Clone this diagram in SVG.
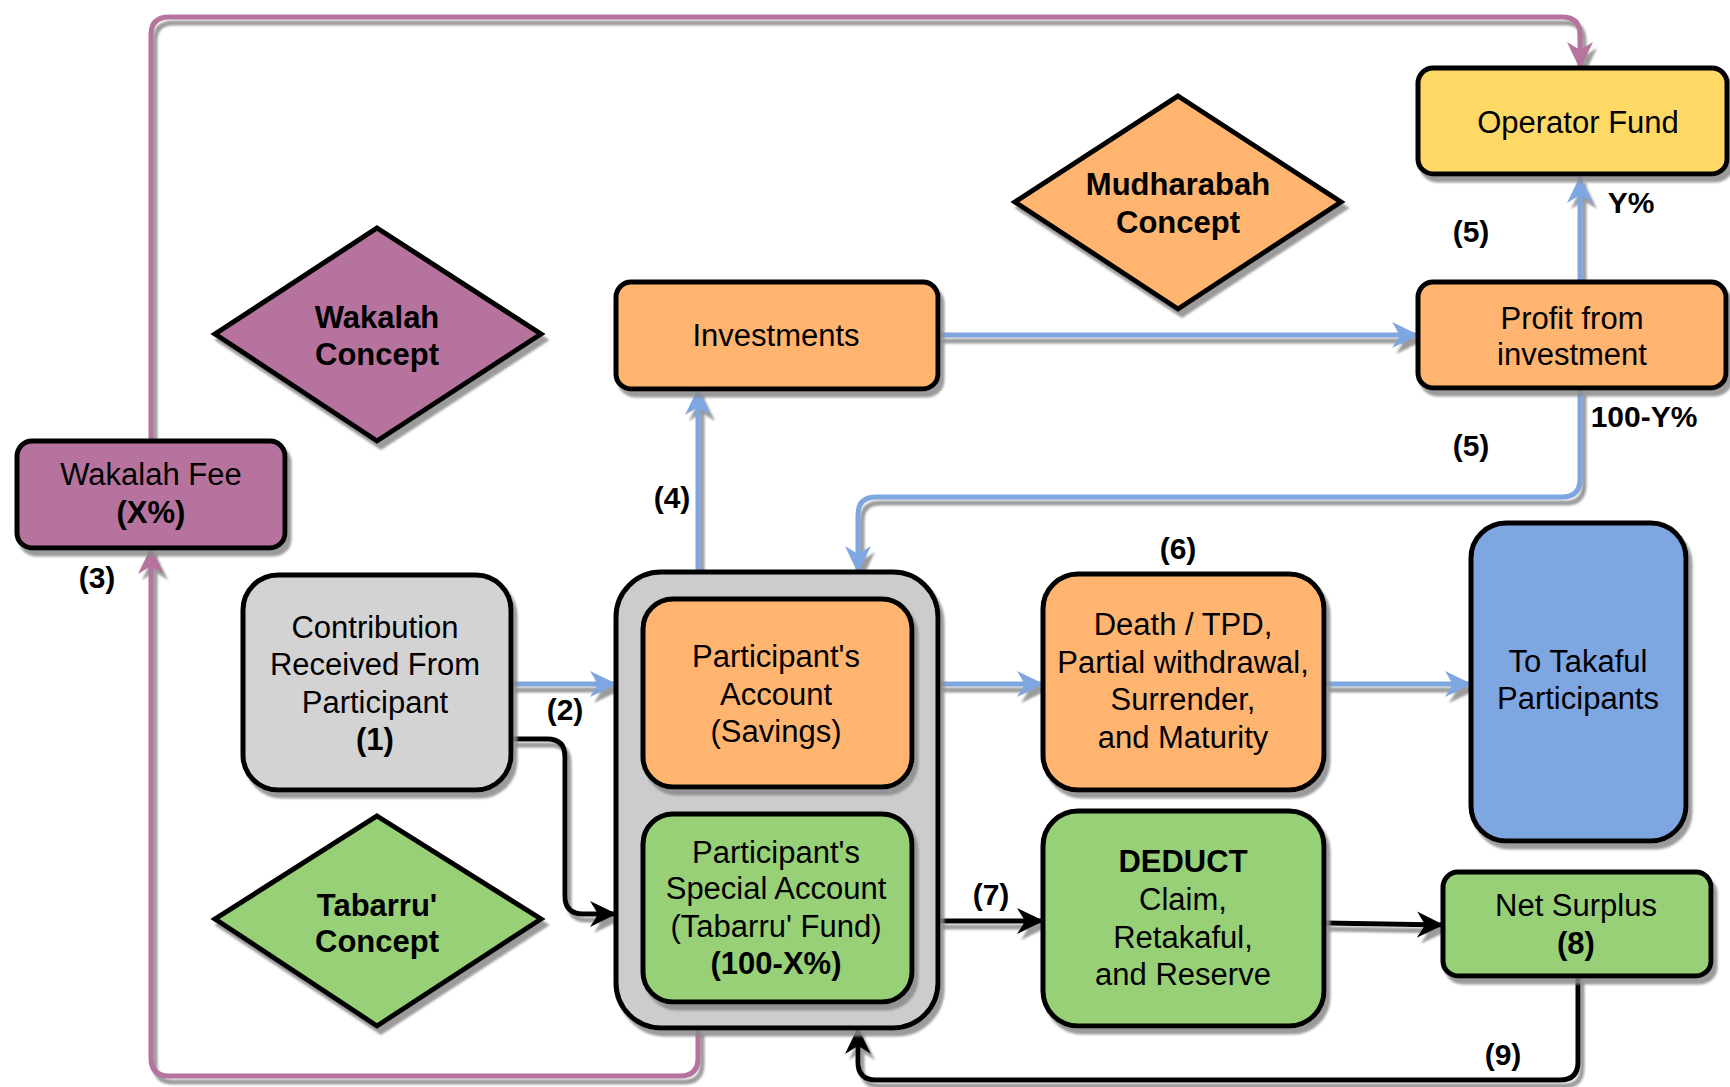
<svg xmlns="http://www.w3.org/2000/svg" width="1730" height="1087" viewBox="0 0 1730 1087">
<defs>
<filter id="sh" x="-10%" y="-10%" width="130%" height="130%">
<feGaussianBlur in="SourceAlpha" stdDeviation="1.2" result="b"/>
<feOffset in="b" dx="4" dy="6" result="o"/>
<feFlood flood-color="#8a8a8a" flood-opacity="0.85"/>
<feComposite in2="o" operator="in" result="s"/>
<feMerge><feMergeNode in="s"/><feMergeNode in="SourceGraphic"/></feMerge>
</filter>
<marker id="ab" markerUnits="userSpaceOnUse" markerWidth="28" markerHeight="28" viewBox="0 0 28 28" refX="26" refY="14" orient="auto"><path d="M0,1 L27,14 L0,27 L8,14 Z" fill="#7EA6E0"/></marker>
<marker id="ap" markerUnits="userSpaceOnUse" markerWidth="28" markerHeight="28" viewBox="0 0 28 28" refX="26" refY="14" orient="auto"><path d="M0,1 L27,14 L0,27 L8,14 Z" fill="#B5739D"/></marker>
<marker id="ak" markerUnits="userSpaceOnUse" markerWidth="28" markerHeight="28" viewBox="0 0 28 28" refX="26" refY="14" orient="auto"><path d="M0,1 L27,14 L0,27 L8,14 Z" fill="#000"/></marker>
</defs>
<style>
text{font-family:"Liberation Sans",Arial,Helvetica,sans-serif;font-size:31px;fill:#000;text-anchor:middle}
.b{font-weight:bold}
.lb{font-weight:bold;font-size:30px}
.n{stroke:#000;stroke-width:5}
.c{fill:none;stroke-width:5;stroke-linejoin:round}
.blue{stroke:#7EA6E0}
.pur{stroke:#B5739D}
.blk{stroke:#000}
</style>

<g id="connectors" filter="url(#sh)">
<path class="c pur" d="M151,441 V35 Q151,17 169,17 H1562 Q1580,17 1580,35 V68" marker-end="url(#ap)"/>
<path class="c pur" d="M698,1028 V1058 Q698,1076 680,1076 H169 Q151,1076 151,1058 V548" marker-end="url(#ap)"/>
<path class="c blue" d="M698,572 V389" marker-end="url(#ab)"/>
<path class="c blue" d="M938,335 H1418" marker-end="url(#ab)"/>
<path class="c blue" d="M1580,282 V177" marker-end="url(#ab)"/>
<path class="c blue" d="M1580,389 V479 Q1580,497 1562,497 H876 Q858,497 858,515 V572" marker-end="url(#ab)"/>
<path class="c blue" d="M511,684 H616" marker-end="url(#ab)"/>
<path class="c blk" d="M511,739 H547 Q565,739 565,757 V896 Q565,914 583,914 H616" marker-end="url(#ak)"/>
<path class="c blue" d="M938,684 H1043" marker-end="url(#ab)"/>
<path class="c blue" d="M1324,684 H1471" marker-end="url(#ab)"/>
<path class="c blk" d="M938,921 H1043" marker-end="url(#ak)"/>
<path class="c blk" d="M1324,923 L1443,925" marker-end="url(#ak)"/>
<path class="c blk" d="M1578,976 V1062 Q1578,1080 1560,1080 H876 Q858,1080 858,1062 V1028" marker-end="url(#ak)"/>
</g>

<g id="labels">
<text class="lb" x="1631" y="213">Y%</text>
<text class="lb" x="1471" y="242">(5)</text>
<text class="lb" x="1644" y="427">100-Y%</text>
<text class="lb" x="1471" y="456">(5)</text>
<text class="lb" x="97" y="588">(3)</text>
<text class="lb" x="672" y="508">(4)</text>
<text class="lb" x="565" y="720">(2)</text>
<text class="lb" x="1178" y="559">(6)</text>
<text class="lb" x="991" y="905">(7)</text>
<text class="lb" x="1503" y="1065">(9)</text>
</g>

<g id="operator-fund">
<rect class="n" x="1418" y="68" width="309" height="106" rx="15" fill="#FFD966" filter="url(#sh)"/>
<text x="1578" y="133">Operator Fund</text>
</g>

<g id="mudharabah-concept">
<polygon class="n" points="1178,96 1341,202 1178,309 1015,202" fill="#FFB570" filter="url(#sh)"/>
<text class="b" x="1178" y="195">Mudharabah</text>
<text class="b" x="1178" y="233">Concept</text>
</g>

<g id="wakalah-concept">
<polygon class="n" points="377,228 541,334 377,441 215,334" fill="#B5739D" filter="url(#sh)"/>
<text class="b" x="377" y="328">Wakalah</text>
<text class="b" x="377" y="365">Concept</text>
</g>

<g id="investments">
<rect class="n" x="616" y="282" width="322" height="107" rx="15" fill="#FFB570" filter="url(#sh)"/>
<text x="776" y="346">Investments</text>
</g>

<g id="profit">
<rect class="n" x="1418" y="282" width="308" height="106" rx="15" fill="#FFB570" filter="url(#sh)"/>
<text x="1572" y="329">Profit from</text>
<text x="1572" y="365">investment</text>
</g>

<g id="wakalah-fee">
<rect class="n" x="17" y="441" width="268" height="107" rx="15" fill="#B5739D" filter="url(#sh)"/>
<text x="151" y="485">Wakalah Fee</text>
<text class="b" x="151" y="523">(X%)</text>
</g>

<g id="contribution">
<rect class="n" x="243" y="575" width="268" height="215" rx="35" fill="#D3D3D3" filter="url(#sh)"/>
<text x="375" y="638">Contribution</text>
<text x="375" y="675">Received From</text>
<text x="375" y="713">Participant</text>
<text class="b" x="375" y="750">(1)</text>
</g>

<g id="tabarru-concept">
<polygon class="n" points="377,816 541,919 377,1026 215,919" fill="#97D077" filter="url(#sh)"/>
<text class="b" x="377" y="916">Tabarru'</text>
<text class="b" x="377" y="952">Concept</text>
</g>

<g id="participant-fund">
<rect class="n" x="616" y="572" width="322" height="456" rx="45" fill="#CCCCCC" filter="url(#sh)"/>
</g>

<g id="participant-account">
<rect class="n" x="643" y="599" width="269" height="188" rx="30" fill="#FFB570" filter="url(#sh)"/>
<text x="776" y="667">Participant's</text>
<text x="776" y="705">Account</text>
<text x="776" y="742">(Savings)</text>
</g>

<g id="special-account">
<rect class="n" x="643" y="814" width="269" height="188" rx="30" fill="#97D077" filter="url(#sh)"/>
<text x="776" y="863">Participant's</text>
<text x="776" y="899">Special Account</text>
<text x="776" y="937">(Tabarru' Fund)</text>
<text class="b" x="776" y="974">(100-X%)</text>
</g>

<g id="death-tpd">
<rect class="n" x="1043" y="574" width="281" height="216" rx="35" fill="#FFB570" filter="url(#sh)"/>
<text x="1183" y="635">Death / TPD,</text>
<text x="1183" y="673">Partial withdrawal,</text>
<text x="1183" y="710">Surrender,</text>
<text x="1183" y="748">and Maturity</text>
</g>

<g id="takaful-participants">
<rect class="n" x="1471" y="523" width="215" height="318" rx="35" fill="#7EA6E0" filter="url(#sh)"/>
<text x="1578" y="672">To Takaful</text>
<text x="1578" y="709">Participants</text>
</g>

<g id="deduct">
<rect class="n" x="1043" y="811" width="281" height="215" rx="35" fill="#97D077" filter="url(#sh)"/>
<text class="b" x="1183" y="872">DEDUCT</text>
<text x="1183" y="910">Claim,</text>
<text x="1183" y="948">Retakaful,</text>
<text x="1183" y="985">and Reserve</text>
</g>

<g id="net-surplus">
<rect class="n" x="1443" y="872" width="268" height="104" rx="15" fill="#97D077" filter="url(#sh)"/>
<text x="1576" y="916">Net Surplus</text>
<text class="b" x="1576" y="954">(8)</text>
</g>
</svg>
